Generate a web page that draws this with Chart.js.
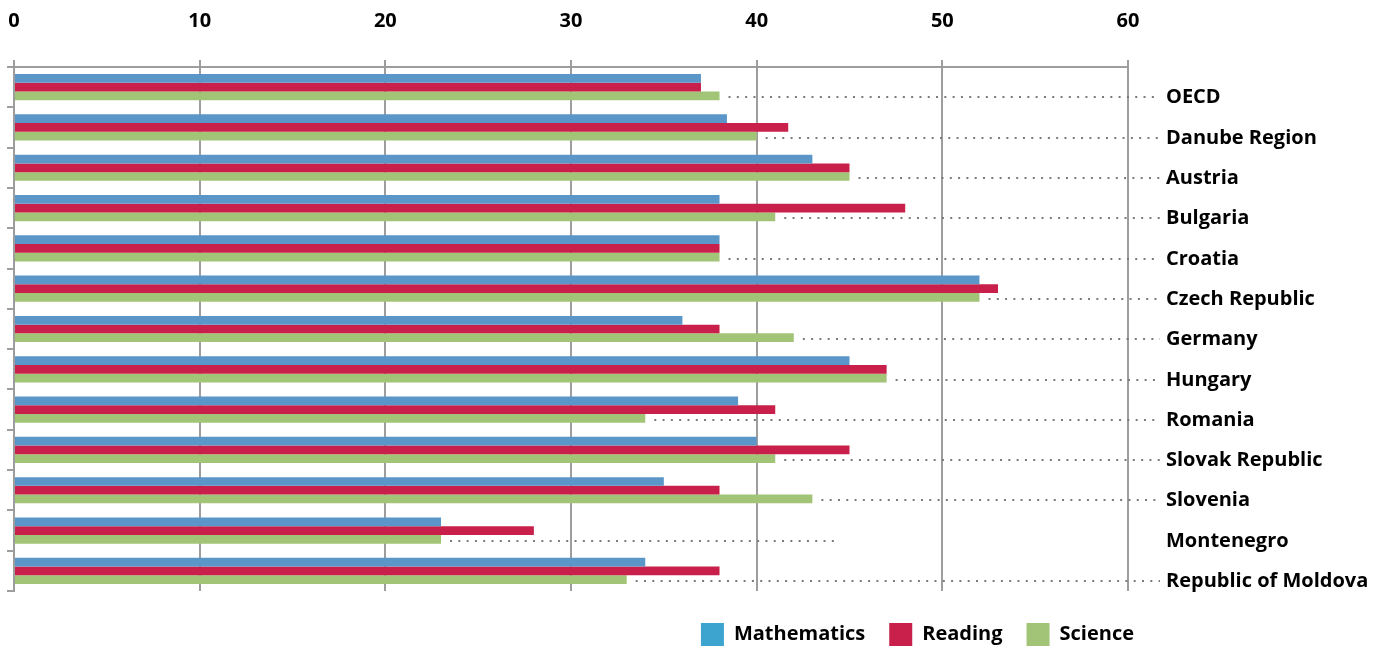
<!DOCTYPE html>
<html lang="en">
<head>
    <meta charset="UTF-8">
    <title>PISA share by country</title>
    <script src="https://cdn.jsdelivr.net/npm/chart.js"></script>
    <style>
        html, body { margin: 0; padding: 0; background: #fff; }
        #wrap { width: 1392px; height: 652px; }
    </style>
</head>
<body>
    <div id="wrap"><canvas id="barChart"></canvas></div>

    <script>
        // data
        const categories = ['OECD', 'Danube Region', 'Austria', 'Bulgaria', 'Croatia', 'Czech Republic',
            'Germany', 'Hungary', 'Romania', 'Slovak Republic', 'Slovenia', 'Montenegro', 'Republic of Moldova'];
        const mathematics = [37, 38.4, 43, 38, 38, 52, 36, 45, 39, 40, 35, 23, 34];
        const reading     = [37, 41.7, 45, 48, 38, 53, 38, 47, 41, 45, 38, 28, 38];
        const science     = [38, 40, 45, 41, 38, 52, 42, 47, 34, 41, 43, 23, 33];
        const xTicks = [0, 10, 20, 30, 40, 50, 60];

        const seriesNames = ['Mathematics', 'Reading', 'Science'];
        const barColors = ['#5b96c8', '#c8204a', '#a2c477'];
        const legendColors = ['#3ca4cf', '#c8204a', '#a2c477'];

        const gridGray = '#9d9d9d';
        const font = { family: 'Open Sans', size: 20, weight: 'bold' };

        // dotted leaders from the science bar to the country label
        const leaderPlugin = {
            id: 'leaders',
            afterDatasetsDraw(chart, args, opts) {
                const ctx = chart.ctx;
                const meta = chart.getDatasetMeta(2);
                const xs = chart.scales.x;
                ctx.save();
                ctx.strokeStyle = '#7a7a7a';
                ctx.lineWidth = 2;
                ctx.setLineDash([2, 6.3]);
                meta.data.forEach((bar, i) => {
                    const y = Math.round(bar.y + 1.5);
                    let end = chart.chartArea.right + 32;
                    if (opts.stops[categories[i]] !== undefined) {
                        end = xs.getPixelForValue(opts.stops[categories[i]]);
                    }
                    ctx.beginPath();
                    ctx.moveTo(bar.x + 9, y);
                    ctx.lineTo(end, y);
                    ctx.stroke();
                });
                ctx.restore();
            }
        };

        // the legend sits a bit right of / below where chart.js puts it
        const legendNudge = {
            id: 'legendNudge',
            afterLayout(chart, args, opts) {
                const lg = chart.legend;
                if (!lg) return;
                lg.left += opts.dx; lg.right += opts.dx;
                lg.top += opts.dy; lg.bottom += opts.dy;
            }
        };

        const datasets = [mathematics, reading, science].map((vals, i) => ({
            label: seriesNames[i],
            data: vals,
            backgroundColor: barColors[i],
            borderWidth: 0,
            categoryPercentage: 0.65,
            barPercentage: 1.0
        }));

        new Chart(document.getElementById('barChart'), {
            type: 'bar',
            data: { labels: categories, datasets: datasets },
            plugins: [leaderPlugin, legendNudge],
            options: {
                indexAxis: 'y',
                responsive: true,
                maintainAspectRatio: false,
                animation: false,
                layout: { padding: { top: 6, left: 0, right: 0, bottom: 4 } },
                scales: {
                    x: {
                        position: 'top',
                        min: 0,
                        max: 60,
                        afterBuildTicks: s => { s.ticks = xTicks.map(v => ({ value: v })); },
                        afterFit: s => {
                            s.height = 61;
                            // label padding is vertical only, don't let it widen the sides
                            s.paddingLeft = 0;
                            s.paddingRight = 0;
                        },
                        grid: { color: gridGray, lineWidth: 2, tickLength: 7 },
                        border: { color: gridGray, width: 2 },
                        ticks: { color: '#000', font: font, padding: 27 }
                    },
                    y: {
                        position: 'right',
                        afterFit: s => { s.width = 264; },
                        grid: { display: false, drawTicks: false },
                        border: { display: false },
                        ticks: { color: '#000', font: font, padding: 38, labelOffset: 10.5, autoSkip: false }
                    },
                    yl: {
                        type: 'category',
                        labels: categories,
                        position: 'left',
                        offset: true,
                        afterFit: s => { s.width = 14; },
                        grid: { offset: true, drawOnChartArea: false, color: gridGray, lineWidth: 2, tickLength: 7 },
                        border: { color: gridGray, width: 2 },
                        ticks: { display: false }
                    }
                },
                plugins: {
                    leaders: { stops: { 'Montenegro': 44.3 } },
                    legendNudge: { dx: 30, dy: 8 },
                    tooltip: { enabled: false },
                    legend: {
                        position: 'bottom',
                        align: 'end',
                        fullSize: false,
                        labels: {
                            color: '#000',
                            font: font,
                            boxWidth: 23,
                            boxHeight: 23,
                            padding: 24,
                            generateLabels: chart => {
                                const items = Chart.defaults.plugins.legend.labels.generateLabels(chart);
                                items.forEach((it, i) => {
                                    it.fillStyle = legendColors[i];
                                    it.strokeStyle = legendColors[i];
                                    it.lineWidth = 0;
                                });
                                return items;
                            }
                        }
                    }
                }
            }
        });
    </script>
</body>
</html>
